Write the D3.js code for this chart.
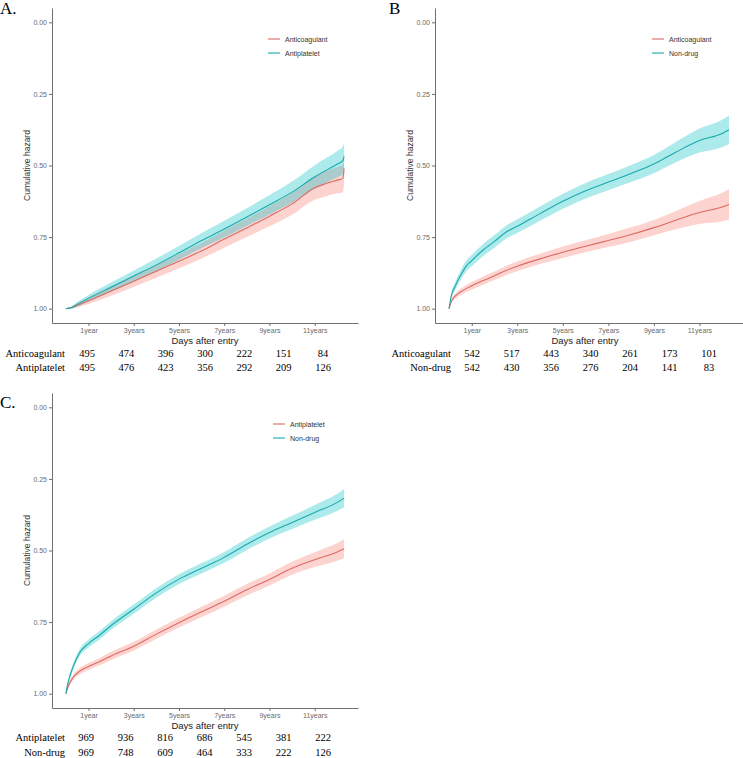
<!DOCTYPE html>
<html><head><meta charset="utf-8">
<script src="https://cdn.jsdelivr.net/npm/d3@7"></script>
<style>body{margin:0;background:#fff} svg{display:block}</style>
</head><body><svg id="c" width="743" height="758"></svg>
<script>
// ---- shared axis ticks ----
const yTicks = [0, 0.25, 0.5, 0.75, 1];
const yTickLabels = ["0.00", "0.25", "0.50", "0.75", "1.00"];
const xTicks = [1, 3, 5, 7, 9, 11];
const xTickLabels = ["1year", "3years", "5years", "7years", "9years", "11years"];
const maxYears = 12.3;

// ---- Panel A: Anticoagulant vs Antiplatelet ----
const timesA = [0, 0.25, 0.5, 1, 2, 3, 4, 5, 6, 7, 8, 9, 10, 11, 11.5, 12, 12.25, 12.3];
const anticoagA = [1.0, 0.996, 0.988, 0.972, 0.938, 0.904, 0.869, 0.834, 0.798, 0.757, 0.718, 0.677, 0.634, 0.578, 0.563, 0.551, 0.545, 0.51];
const anticoagA_ci = [0, 0.004, 0.008, 0.012, 0.017, 0.020, 0.023, 0.025, 0.027, 0.030, 0.032, 0.035, 0.038, 0.042, 0.044, 0.046, 0.048, 0.05];
const antiplateletA = [1.0, 0.996, 0.985, 0.964, 0.925, 0.886, 0.847, 0.805, 0.762, 0.722, 0.680, 0.637, 0.593, 0.540, 0.517, 0.495, 0.482, 0.468];
const antiplateletA_ci = [0, 0.004, 0.008, 0.012, 0.016, 0.019, 0.022, 0.024, 0.026, 0.029, 0.031, 0.034, 0.037, 0.041, 0.043, 0.046, 0.048, 0.05];
const riskA_anticoag = [495, 474, 396, 300, 222, 151, 84];
const riskA_antiplatelet = [495, 476, 423, 356, 292, 209, 126];

// ---- Panel B: Anticoagulant vs Non-drug ----
const timesB = [0, 0.1, 0.25, 0.5, 0.75, 1, 1.5, 2, 2.5, 3, 4, 5, 6, 7, 8, 9, 10, 11, 12, 12.3];
const anticoagB = [1.0, 0.975, 0.958, 0.942, 0.930, 0.920, 0.902, 0.885, 0.867, 0.852, 0.826, 0.803, 0.782, 0.762, 0.741, 0.717, 0.690, 0.664, 0.645, 0.636];
const anticoagB_ci = [0, 0.006, 0.009, 0.011, 0.012, 0.013, 0.014, 0.015, 0.016, 0.017, 0.018, 0.020, 0.021, 0.023, 0.025, 0.027, 0.032, 0.040, 0.050, 0.053];
const nondrugB = [1.0, 0.955, 0.925, 0.885, 0.852, 0.832, 0.795, 0.765, 0.733, 0.712, 0.668, 0.625, 0.588, 0.558, 0.528, 0.495, 0.452, 0.413, 0.388, 0.375];
const nondrugB_ci = [0, 0.010, 0.014, 0.017, 0.019, 0.020, 0.021, 0.022, 0.023, 0.024, 0.025, 0.026, 0.027, 0.028, 0.030, 0.032, 0.036, 0.042, 0.048, 0.05];
const riskB_anticoag = [542, 517, 443, 340, 261, 173, 101];
const riskB_nondrug = [542, 430, 356, 276, 204, 141, 83];

// ---- Panel C: Antiplatelet vs Non-drug ----
const timesC = [0, 0.1, 0.3, 0.6, 1, 1.5, 2, 3, 4, 5, 6, 7, 8, 9, 10, 11, 12, 12.3];
const antiplateletC = [1.0, 0.975, 0.945, 0.922, 0.905, 0.888, 0.868, 0.834, 0.792, 0.752, 0.714, 0.677, 0.637, 0.601, 0.562, 0.532, 0.505, 0.494];
const antiplateletC_ci = [0, 0.006, 0.009, 0.011, 0.012, 0.013, 0.014, 0.015, 0.016, 0.017, 0.018, 0.019, 0.020, 0.021, 0.023, 0.026, 0.031, 0.033];
const nondrugC = [1.0, 0.96, 0.91, 0.858, 0.825, 0.795, 0.762, 0.705, 0.648, 0.600, 0.562, 0.524, 0.478, 0.437, 0.402, 0.367, 0.332, 0.317];
const nondrugC_ci = [0, 0.008, 0.011, 0.013, 0.014, 0.015, 0.015, 0.016, 0.017, 0.017, 0.018, 0.019, 0.020, 0.021, 0.023, 0.026, 0.030, 0.032];
const riskC_antiplatelet = [969, 936, 816, 686, 545, 381, 222];
const riskC_nondrug = [969, 748, 609, 464, 333, 222, 126];

const RED = "#F8766D", TEAL = "#00BFC4";
const RED_LINE = "#DB6A62", TEAL_LINE = "#19A9AC";

const panels = [
  { label: "A.", labelX: 0, labelY: 14, left: 52, top: 8, right: 358, bottom: 323,
    legX: 268, legY: 39, riskLabelX: 65, riskX0: 87, riskX1: 323, riskY: [357, 371],
    times: timesA,
    series: [
      { name: "Anticoagulant", est: anticoagA, ci: anticoagA_ci, fill: RED, line: RED_LINE, risk: riskA_anticoag },
      { name: "Antiplatelet", est: antiplateletA, ci: antiplateletA_ci, fill: TEAL, line: TEAL_LINE, risk: riskA_antiplatelet }
    ] },
  { label: "B", labelX: 389, labelY: 14, left: 435, top: 8, right: 743, bottom: 323,
    legX: 652, legY: 39, riskLabelX: 451, riskX0: 472, riskX1: 709, riskY: [357, 371],
    times: timesB,
    series: [
      { name: "Anticoagulant", est: anticoagB, ci: anticoagB_ci, fill: RED, line: RED_LINE, risk: riskB_anticoag },
      { name: "Non-drug", est: nondrugB, ci: nondrugB_ci, fill: TEAL, line: TEAL_LINE, risk: riskB_nondrug }
    ] },
  { label: "C.", labelX: 0, labelY: 408, left: 52, top: 393, right: 358, bottom: 708,
    legX: 273, legY: 424, riskLabelX: 65, riskX0: 86, riskX1: 323, riskY: [741, 756],
    times: timesC,
    series: [
      { name: "Antiplatelet", est: antiplateletC, ci: antiplateletC_ci, fill: RED, line: RED_LINE, risk: riskC_antiplatelet },
      { name: "Non-drug", est: nondrugC, ci: nondrugC_ci, fill: TEAL, line: TEAL_LINE, risk: riskC_nondrug }
    ] }
];

const svg = d3.select("#c");
const SANS = "'Liberation Sans', Arial, sans-serif";
const SERIF = "'Liberation Serif', 'Times New Roman', serif";

panels.forEach(p => {
  const g = svg.append("g");
  const x = d3.scaleLinear().domain([-0.05 * maxYears, 1.05 * maxYears]).range([p.left, p.right]);
  const y = d3.scaleLinear().domain([-0.05, 1.05]).range([p.top, p.bottom]);

  // bands
  p.series.forEach(s => {
    const pts = p.times.map((t, i) => ({ t, v: s.est[i], c: s.ci[i] }));
    const area = d3.area().x(d => x(d.t)).y0(d => y(d.v - d.c)).y1(d => y(d.v + d.c)).curve(d3.curveMonotoneX);
    g.append("path").datum(pts).attr("d", area).attr("fill", s.fill).attr("fill-opacity", 0.32);
  });
  // lines
  p.series.forEach(s => {
    const pts = p.times.map((t, i) => ({ t, v: s.est[i] }));
    const line = d3.line().x(d => x(d.t)).y(d => y(d.v)).curve(d3.curveMonotoneX);
    g.append("path").datum(pts).attr("d", line).attr("fill", "none").attr("stroke", s.line).attr("stroke-width", 1.1);
  });

  // axes
  const ya = g.append("g").attr("transform", `translate(${p.left},0)`)
    .call(d3.axisLeft(y).tickValues(yTicks).tickFormat((d, i) => yTickLabels[i]).tickSize(3).tickSizeOuter(0).tickPadding(2));
  const xa = g.append("g").attr("transform", `translate(0,${p.bottom})`)
    .call(d3.axisBottom(x).tickValues(xTicks).tickFormat((d, i) => xTickLabels[i]).tickSize(3).tickSizeOuter(0).tickPadding(2));
  [ya, xa].forEach(a => {
    a.select(".domain").attr("stroke", "#6e6e6e").attr("stroke-width", 1);
    a.selectAll(".tick line").attr("stroke", "#6e6e6e");
    a.selectAll(".tick text").attr("fill", "#6a6a6a").style("font-family", SANS).style("font-size", "7px");
  });

  // axis titles
  g.append("text").attr("transform", `translate(${p.left - 22},${(p.top + p.bottom) / 2}) rotate(-90)`)
    .attr("text-anchor", "middle").style("font-family", SANS).style("font-size", "8.5px").attr("fill", "#333")
    .text("Cumulative hazard");
  g.append("text").attr("x", (p.left + p.right) / 2 + (p.right > 700 ? -4 : 0)).attr("y", p.bottom + 21)
    .attr("text-anchor", "middle").style("font-family", SANS).style("font-size", "9.5px").attr("fill", "#222")
    .text("Days after entry");

  // panel label
  g.append("text").attr("x", p.labelX).attr("y", p.labelY).style("font-family", SERIF).style("font-size", "17px")
    .attr("fill", "#000").text(p.label);

  // legend
  p.series.forEach((s, i) => {
    const ly = p.legY + i * 14;
    g.append("line").attr("x1", p.legX).attr("x2", p.legX + 12).attr("y1", ly).attr("y2", ly)
      .attr("stroke", s.line).attr("stroke-width", 1.1);
    g.append("text").attr("x", p.legX + 17).attr("y", ly + 2.5).style("font-family", SANS).style("font-size", "7px")
      .attr("fill", "#333").text(s.name);
  });

  // risk table
  const rx = d3.scaleLinear().domain([0, 6]).range([p.riskX0, p.riskX1]);
  p.series.forEach((s, i) => {
    const ry = p.riskY[i];
    g.append("text").attr("x", p.riskLabelX).attr("y", ry).attr("text-anchor", "end")
      .style("font-family", SERIF).style("font-size", "10.5px").attr("fill", "#000").text(s.name);
    g.selectAll(null).data(s.risk).enter().append("text")
      .attr("x", (d, j) => rx(j)).attr("y", ry).attr("text-anchor", "middle")
      .style("font-family", SERIF).style("font-size", "10.5px").attr("fill", "#000").text(d => d);
  });
});
</script>
</body></html>
